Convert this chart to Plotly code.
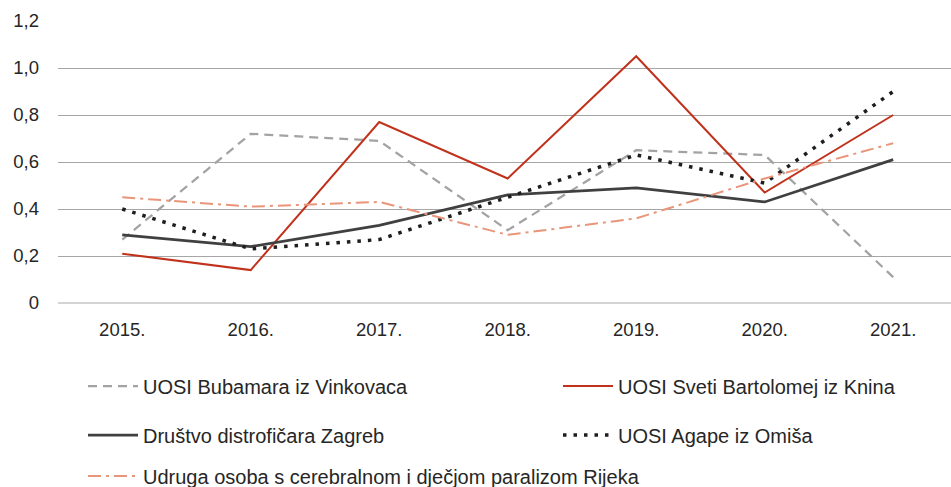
import plotly.graph_objects as go

years = ["2015.", "2016.", "2017.", "2018.", "2019.", "2020.", "2021."]

bubamara = [0.27, 0.72, 0.69, 0.31, 0.65, 0.63, 0.11]
bartolomej = [0.21, 0.14, 0.77, 0.53, 1.05, 0.47, 0.80]
distroficari = [0.29, 0.24, 0.33, 0.46, 0.49, 0.43, 0.61]
agape = [0.40, 0.23, 0.27, 0.45, 0.63, 0.51, 0.90]
rijeka = [0.45, 0.41, 0.43, 0.29, 0.36, 0.53, 0.68]

y_ticks = [0, 0.2, 0.4, 0.6, 0.8, 1.0, 1.2]
y_ticktext = ["0", "0,2", "0,4", "0,6", "0,8", "1,0", "1,2"]

series = [
    ("UOSI Bubamara iz Vinkovaca", bubamara, "#A3A3A3", "9px,6px", 2.25, "legend"),
    ("UOSI Sveti Bartolomej iz Knina", bartolomej, "#C0321C", "solid", 2.0, "legend2"),
    ("Društvo distrofičara Zagreb", distroficari, "#404040", "solid", 2.75, "legend3"),
    ("UOSI Agape iz Omiša", agape, "#1E1E1E", "3.5px,7px", 3.5, "legend4"),
    ("Udruga osoba s cerebralnom i dječjom paralizom Rijeka", rijeka, "#E8957A",
     "13px,5px,3px,5px", 2.0, "legend5"),
]

x_idx = list(range(len(years)))

fig = go.Figure()
for name, vals, color, dash, width, leg in series:
    fig.add_trace(go.Scatter(
        x=x_idx, y=vals, name=name, mode="lines",
        line=dict(color=color, dash=dash, width=width),
        legend=leg,
    ))

font_family = "Liberation Sans, Arial, sans-serif"
text_color = "#262626"


def legend_at(x_px, y_px):
    return dict(
        x=x_px / 951, y=1 - y_px / 487, xref="container", yref="container",
        xanchor="left", yanchor="middle", bgcolor="rgba(0,0,0,0)",
        font=dict(family=font_family, size=20, color=text_color),
        itemwidth=50,
    )


fig.update_layout(
    width=951, height=487,
    showlegend=True,
    margin=dict(l=58, r=0, t=21, b=184, autoexpand=False),
    paper_bgcolor="white", plot_bgcolor="white",
    font=dict(family=font_family, size=18.5, color=text_color),
    xaxis=dict(
        tickmode="array", tickvals=x_idx, ticktext=years,
        range=[-0.5, 6.45], showgrid=False, zeroline=False,
        showline=False, ticks="", ticklabelstandoff=13,
    ),
    yaxis=dict(
        range=[0, 1.2], tickmode="array", tickvals=y_ticks, ticktext=y_ticktext,
        showgrid=True, gridcolor="#A6A6A6", gridwidth=1,
        zeroline=True, zerolinecolor="#D4D4D4", zerolinewidth=2,
        showline=False, ticks="", ticklabelstandoff=18,
    ),
    legend=legend_at(83, 386),
    legend2=legend_at(558, 386),
    legend3=legend_at(83, 435),
    legend4=legend_at(558, 435),
    legend5=legend_at(83, 476),
)

fig.write_html("out.html")
